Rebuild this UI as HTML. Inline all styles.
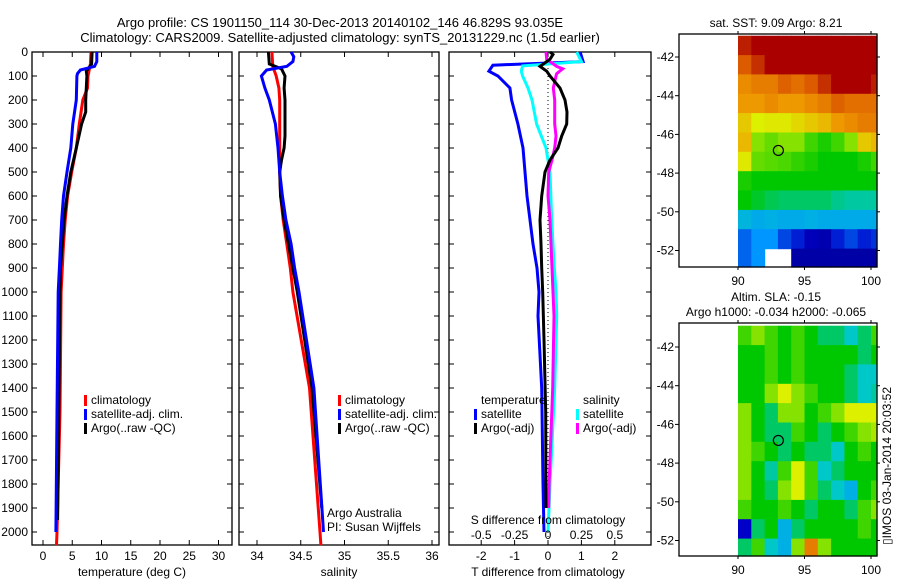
<!DOCTYPE html>
<html><head><meta charset="utf-8"><style>
body{margin:0;background:#fff}
svg{display:block;font-family:"Liberation Sans",sans-serif}
text{font-size:12px;fill:#000}
</style></head><body>
<svg id="fig" width="900" height="580" viewBox="0 0 900 580" xmlns="http://www.w3.org/2000/svg">
<rect x="0" y="0" width="900" height="580" fill="#fff"/>
<text x="340" y="27" text-anchor="middle" style="font-size:13px">Argo profile: CS 1901150_114 30-Dec-2013 20140102_146 46.829S 93.035E</text>
<text x="340" y="42" text-anchor="middle" style="font-size:13px">Climatology: CARS2009. Satellite-adjusted climatology: synTS_20131229.nc (1.5d earlier)</text>
<g id="p1"></g>
<g id="p2"></g>
<g id="p3"></g>
<g id="m1"></g>
<g id="m2"></g>
</svg>
<script>
// ---- profile data ----
const tempDepthBlue = [0,40,60,75,90,100,200,300,400,500,600,700,800,900,1000,1500,2000];
const tempBlue = [9.2,9.2,8.8,6.4,5.9,5.8,5.7,5.1,4.75,4.1,3.5,3.2,3.0,2.8,2.6,2.4,2.2];
const tempDepthRed = [0,50,100,150,200,300,400,500,600,700,800,900,1000,1500,2000,2055];
const tempRed = [8.2,8.1,7.7,7.6,6.8,6.2,5.7,4.9,4.2,3.8,3.5,3.3,3.1,2.9,2.4,2.3];
const tempDepthBlack = [0,50,80,100,200,250,300,400,500,600,700,800,900,1000,1500,1950];
const tempBlack = [8.4,8.3,7.4,7.5,7.3,7.3,6.6,5.7,4.75,4.1,3.6,3.3,3.0,2.9,2.7,2.5];

const salDepthRed = [0,60,100,150,200,400,500,600,700,800,900,1000,1400,2000,2055];
const salRed = [34.17,34.18,34.22,34.25,34.26,34.26,34.26,34.27,34.30,34.34,34.38,34.41,34.60,34.72,34.73];
const salDepthBlue = [0,20,40,60,75,100,150,200,300,400,500,600,700,800,900,1000,1400,2000];
const salBlue = [34.39,34.42,34.41,34.34,34.11,34.05,34.09,34.14,34.21,34.24,34.26,34.29,34.33,34.39,34.43,34.48,34.65,34.76];
const salDepthBlack = [0,50,70,100,150,200,350,400,450,500,600,700,800,900,1000,1400,1900];
const salBlack = [34.13,34.14,34.28,34.32,34.31,34.32,34.32,34.31,34.28,34.26,34.27,34.31,34.36,34.41,34.46,34.63,34.74];

const dTDepthSat = [0,40,55,80,100,150,200,300,400,500,600,700,800,900,1000,1100,1400,1800,2000];
const dTSat = [0.96,1.05,-1.65,-1.77,-1.5,-1.14,-1.09,-0.9,-0.75,-0.69,-0.63,-0.54,-0.45,-0.33,-0.27,-0.3,-0.19,-0.15,-0.12];
const dTDepthArgo = [0,10,30,60,80,100,150,200,250,300,350,400,450,500,600,700,800,900,1000,1200,1500,1900];
const dTArgo = [0.06,0.15,0.06,-0.24,-0.04,0.06,0.36,0.51,0.57,0.56,0.41,0.3,0.06,-0.09,-0.19,-0.24,-0.21,-0.19,-0.16,-0.12,-0.07,-0.06];
const dSDepthSat = [0,40,58,80,100,150,200,300,400,450,500,700,900,1000,1100,1400,1800,2000];
const dSSat = [0.215,0.25,-0.19,-0.2,-0.19,-0.15,-0.12,-0.085,-0.015,0,0.015,0.028,0.047,0.06,0.065,0.05,0.015,0];
const dSDepthArgo = [0,30,60,70,90,100,150,200,300,350,400,450,500,600,700,900,1100,1400,1800,1900];
const dSArgo = [-0.015,-0.01,0.065,0.11,0.065,0.06,0.04,0.05,0.05,0.06,0.05,0.03,0.005,0,0.015,0.03,0.045,0.035,0.008,0.005];

const depthTicks = [0,100,200,300,400,500,600,700,800,900,1000,1100,1200,1300,1400,1500,1600,1700,1800,1900,2000];
const tempTicks = [0,5,10,15,20,25,30];
const salTicks = [34,34.5,35,35.5,36];
const salTickLabels = ["34","34.5","35","35.5","36"];
const dTTicks = [-2,-1,0,1,2];
const dSTicks = [-0.5,-0.25,0,0.25,0.5];
const dSTickLabels = ["-0.5","-0.25","0","0.25","0.5"];

// ---- map data (0..1 on colour scale, null = no data) ----
const mapLats = [-41.4,-42.4,-43.4,-44.4,-45.4,-46.4,-47.4,-48.4,-49.4,-50.4,-51.4,-52.4];
const mapLons = [90.5,91.5,92.5,93.5,94.5,95.5,96.5,97.5,98.5,99.5,100.5];
const sstGrid = [
[0.95,1,1,1,1,1,1,1,1,1,1],
[0.85,0.92,1,1,1,1,1,1,1,1,1],
[0.78,0.8,0.8,0.84,0.82,0.85,0.92,1,1,1,0.95],
[0.76,0.76,0.78,0.76,0.76,0.78,0.8,0.84,0.82,0.82,0.82],
[0.7,0.65,0.66,0.66,0.68,0.7,0.72,0.76,0.78,0.8,0.8],
[0.72,0.6,0.58,0.6,0.6,0.55,0.52,0.55,0.6,0.7,0.72],
[0.66,0.58,0.57,0.56,0.54,0.52,0.5,0.5,0.5,0.52,0.55],
[0.52,0.5,0.5,0.5,0.5,0.5,0.5,0.5,0.5,0.5,0.5],
[0.5,0.48,0.46,0.45,0.45,0.45,0.45,0.43,0.42,0.42,0.42],
[0.36,0.34,0.35,0.34,0.34,0.35,0.34,0.34,0.34,0.34,0.34],
[0.25,0.3,0.3,0.22,0.18,0.12,0.1,0.18,0.22,0.18,0.2],
[0.25,0.3,null,null,0.08,0.08,0.08,0.08,0.08,0.08,0.08]];
const slaGrid = [
[0.55,0.6,0.55,0.5,0.55,0.5,0.45,0.45,0.4,0.45,0.55],
[0.5,0.5,0.55,0.5,0.55,0.5,0.5,0.5,0.5,0.45,0.5],
[0.5,0.5,0.55,0.5,0.55,0.5,0.5,0.5,0.45,0.4,0.4],
[0.5,0.5,0.6,0.65,0.6,0.55,0.5,0.5,0.45,0.4,0.42],
[0.6,0.5,0.45,0.6,0.6,0.5,0.55,0.6,0.65,0.65,0.65],
[0.6,0.5,0.45,0.45,0.55,0.5,0.45,0.5,0.55,0.6,0.62],
[0.6,0.55,0.5,0.45,0.5,0.45,0.45,0.4,0.5,0.55,0.5],
[0.6,0.5,0.42,0.55,0.65,0.55,0.4,0.45,0.5,0.5,0.5],
[0.6,0.5,0.45,0.6,0.65,0.55,0.45,0.4,0.35,0.5,0.55],
[0.55,0.5,0.5,0.55,0.5,0.45,0.5,0.5,0.45,0.55,0.6],
[0.15,0.45,0.5,0.35,0.45,0.5,0.5,0.5,0.5,0.55,0.5],
[0.45,0.55,0.4,0.35,0.6,0.8,0.6,0.5,0.5,0.5,0.5]];
const argoLon = 93.035;
const argoLat = -46.829;
const latTicks = [-42,-44,-46,-48,-50,-52];
const lonTicks = [90,95,100];

const NS = "http://www.w3.org/2000/svg";
function el(parent, tag, attrs, txt){
  const e = document.createElementNS(NS, tag);
  for (const k in attrs) e.setAttribute(k, attrs[k]);
  if (txt !== undefined) e.textContent = txt;
  parent.appendChild(e);
  return e;
}
const Y0 = 52, Y1 = 545;
const yD = d => Y0 + d * 0.24;

function frame(g, x0, x1, xTicks, xFn, leftLabels){
  const f = el(g, 'rect', {x:x0, y:Y0, width:x1-x0, height:Y1-Y0, fill:'none', stroke:'#000', 'stroke-width':1.3});
  
  
  depthTicks.forEach(d => {
    el(g, 'line', {x1:x0, x2:x0+5, y1:yD(d), y2:yD(d), stroke:'#000'});
    el(g, 'line', {x1:x1, x2:x1-5, y1:yD(d), y2:yD(d), stroke:'#000'});
    if (leftLabels) {
      const t = el(g, 'text', {x:x0-4, y:yD(d)+4, 'text-anchor':'end'}, String(d));
      
      
    }
  });
  xTicks.forEach(v => {
    el(g, 'line', {x1:xFn(v), x2:xFn(v), y1:Y0, y2:Y0+5, stroke:'#000'});
    el(g, 'line', {x1:xFn(v), x2:xFn(v), y1:Y1, y2:Y1-5, stroke:'#000'});
  });
}
function line(g, depths, vals, xFn, color, name, w){
  const pts = depths.map((d,i) => xFn(vals[i]).toFixed(1) + ',' + yD(d).toFixed(1)).join(' ');
  const p = el(g, 'polyline', {points:pts, fill:'none', stroke:color, 'stroke-width':w||3, 'stroke-linejoin':'miter'});
  
  
}
function legend(g, x, y, color, label, name){
  el(g, 'rect', {x:x, y:y-9, width:3, height:11, fill:color});
  const t = el(g, 'text', {x:x+7, y:y}, label);
  
  
}
function xlabels(g, ticks, labels, xFn, y, name){
  ticks.forEach((v,i) => {
    const t = el(g, 'text', {x:xFn(v), y:y, 'text-anchor':'middle'}, labels ? labels[i] : String(v));
    
    
  });
}

// Panel 1 temperature
const p1 = document.getElementById('p1');
const xT = v => 43 + 5.85 * v;
frame(p1, 32, 232, tempTicks, xT, true);
line(p1, tempDepthRed, tempRed, xT, '#f00', 'climatology-temperature-line');
line(p1, tempDepthBlack, tempBlack, xT, '#000', 'argo-temperature-line');
line(p1, tempDepthBlue, tempBlue, xT, '#00f', 'satellite-temperature-line');
xlabels(p1, tempTicks, null, xT, 560, 'temperature-tick-label');
el(p1, 'text', {x:132, y:576, 'text-anchor':'middle',  }, 'temperature (deg C)');
legend(p1, 84, 404, '#f00', 'climatology', 'legend-climatology');
legend(p1, 84, 418, '#00f', 'satellite-adj. clim.', 'legend-satellite');
legend(p1, 84, 432, '#000', 'Argo(..raw -QC)', 'legend-argo');

// Panel 2 salinity
const p2 = document.getElementById('p2');
const xS = v => 257 + 87.5 * (v - 34);
frame(p2, 239, 439, salTicks, xS, false);
line(p2, salDepthRed, salRed, xS, '#f00', 'climatology-salinity-line');
line(p2, salDepthBlack, salBlack, xS, '#000', 'argo-salinity-line');
line(p2, salDepthBlue, salBlue, xS, '#00f', 'satellite-salinity-line');
xlabels(p2, salTicks, salTickLabels, xS, 560, 'salinity-tick-label');
el(p2, 'text', {x:339, y:576, 'text-anchor':'middle',  }, 'salinity');
legend(p2, 338, 404, '#f00', 'climatology', 'legend-climatology');
legend(p2, 338, 418, '#00f', 'satellite-adj. clim.', 'legend-satellite');
legend(p2, 338, 432, '#000', 'Argo(..raw -QC)', 'legend-argo');
el(p2, 'text', {x:327, y:517,  }, 'Argo Australia');
el(p2, 'text', {x:327, y:531,  }, 'PI: Susan Wijffels');

// Panel 3 differences
const p3 = document.getElementById('p3');
const xdT = v => 548 + 33.4 * v;
const xdS = v => 548 + 133.6 * v;
frame(p3, 449, 651, dTTicks, xdT, false);
el(p3, 'line', {x1:548, x2:548, y1:Y0, y2:Y1, stroke:'#000', 'stroke-dasharray':'1,3',  });
line(p3, dTDepthSat, dTSat, xdT, '#00f', 'temperature-satellite-diff-line');
line(p3, dSDepthSat, dSSat, xdS, '#0ff', 'salinity-satellite-diff-line');
line(p3, dSDepthArgo, dSArgo, xdS, '#f0f', 'salinity-argo-diff-line');
line(p3, dTDepthArgo, dTArgo, xdT, '#000', 'temperature-argo-diff-line');
xlabels(p3, dTTicks, null, xdT, 560, 'dt-tick-label');
el(p3, 'text', {x:548, y:576, 'text-anchor':'middle',  }, 'T difference from climatology');
xlabels(p3, dSTicks, dSTickLabels, xdS, 539, 'ds-tick-label');
el(p3, 'text', {x:548, y:524, 'text-anchor':'middle',  }, 'S difference from climatology');
el(p3, 'text', {x:481, y:404,  }, 'temperature');
legend(p3, 474, 418, '#00f', 'satellite', 'legend-t-satellite');
legend(p3, 474, 432, '#000', 'Argo(-adj)', 'legend-t-argo');
el(p3, 'text', {x:583, y:404,  }, 'salinity');
legend(p3, 576, 418, '#0ff', 'satellite', 'legend-s-satellite');
legend(p3, 576, 432, '#f0f', 'Argo(-adj)', 'legend-s-argo');

// Maps
const cmapStops = [[0,0,0,130],[0.15,0,0,200],[0.3,0,150,255],[0.4,0,200,200],[0.5,0,200,0],[0.58,100,220,0],[0.65,220,240,0],[0.75,240,160,0],[0.85,220,90,0],[1,170,0,0]];
function cmap(v){
  for (let i = 1; i < cmapStops.length; i++) {
    const a = cmapStops[i-1], b = cmapStops[i];
    if (v <= b[0]) {
      const t = (v - a[0]) / (b[0] - a[0]);
      return 'rgb(' + [1,2,3].map(k => Math.round(a[k] + t*(b[k]-a[k]))).join(',') + ')';
    }
  }
  return 'rgb(170,0,0)';
}
function drawMap(id, top, bottom, lat42y, grid, title1, title2){
  const g = document.getElementById(id);
  const x0 = 679, x1 = 877;
  const yL = lat => lat42y + (-42 - lat) * 19.35;
  const xL = lon => 738 + (lon - 90) * 13.3;
  mapLats.forEach((lat, r) => {
    mapLons.forEach((lon, c) => {
      const v = grid[r][c];
      if (v === null) return;
      const ya = Math.max(top, yL(lat + 0.5)), yb = Math.min(bottom, yL(lat - 0.5));
      const xa = Math.max(737, xL(lon - 0.5)), xb = Math.min(x1, xL(lon + 0.5));
      const cell = el(g, 'rect', {x:xa.toFixed(1), y:ya.toFixed(1), width:(xb-xa+0.6).toFixed(1), height:(yb-ya+0.6).toFixed(1), fill:cmap(v)});
      
      
    });
  });
  const f = el(g, 'rect', {x:x0, y:top, width:x1-x0, height:bottom-top, fill:'none', stroke:'#000', 'stroke-width':1.3});
  
  
  latTicks.forEach(lat => {
    el(g, 'line', {x1:x0-4, x2:x0, y1:yL(lat), y2:yL(lat), stroke:'#000'});
    el(g, 'line', {x1:x1, x2:x1+3, y1:yL(lat), y2:yL(lat), stroke:'#000'});
    const t = el(g, 'text', {x:x0-5, y:yL(lat)+4, 'text-anchor':'end'}, String(lat));
    
    
  });
  lonTicks.forEach(lon => {
    el(g, 'line', {x1:xL(lon), x2:xL(lon), y1:bottom, y2:bottom+3, stroke:'#000'});
    el(g, 'line', {x1:xL(lon), x2:xL(lon), y1:top, y2:top-3, stroke:'#000'});
    const t = el(g, 'text', {x:xL(lon), y:bottom+18, 'text-anchor':'middle'}, String(lon));
    
    
  });
  const m = el(g, 'circle', {cx:xL(argoLon), cy:yL(argoLat), r:5, fill:'none', stroke:'#000', 'stroke-width':1.2});
  
  
  const t1 = el(g, 'text', {x:776, y:top - (title2 ? 22 : 7), 'text-anchor':'middle'}, title1);
  
  
  if (title2) {
    const t2 = el(g, 'text', {x:776, y:top - 7, 'text-anchor':'middle'}, title2);
    
    
  }
}
drawMap('m1', 34, 267, 57, sstGrid, 'sat. SST: 9.09 Argo: 8.21');
drawMap('m2', 323, 556, 347, slaGrid, 'Altim. SLA: -0.15', 'Argo h1000: -0.034 h2000: -0.065');
const vt = el(document.getElementById('m2'), 'text', {x:0, y:0, transform:'translate(891,545) rotate(-90)'}, '\u25AFIMOS 03-Jan-2014 20:03:52');


</script>
</body></html>
